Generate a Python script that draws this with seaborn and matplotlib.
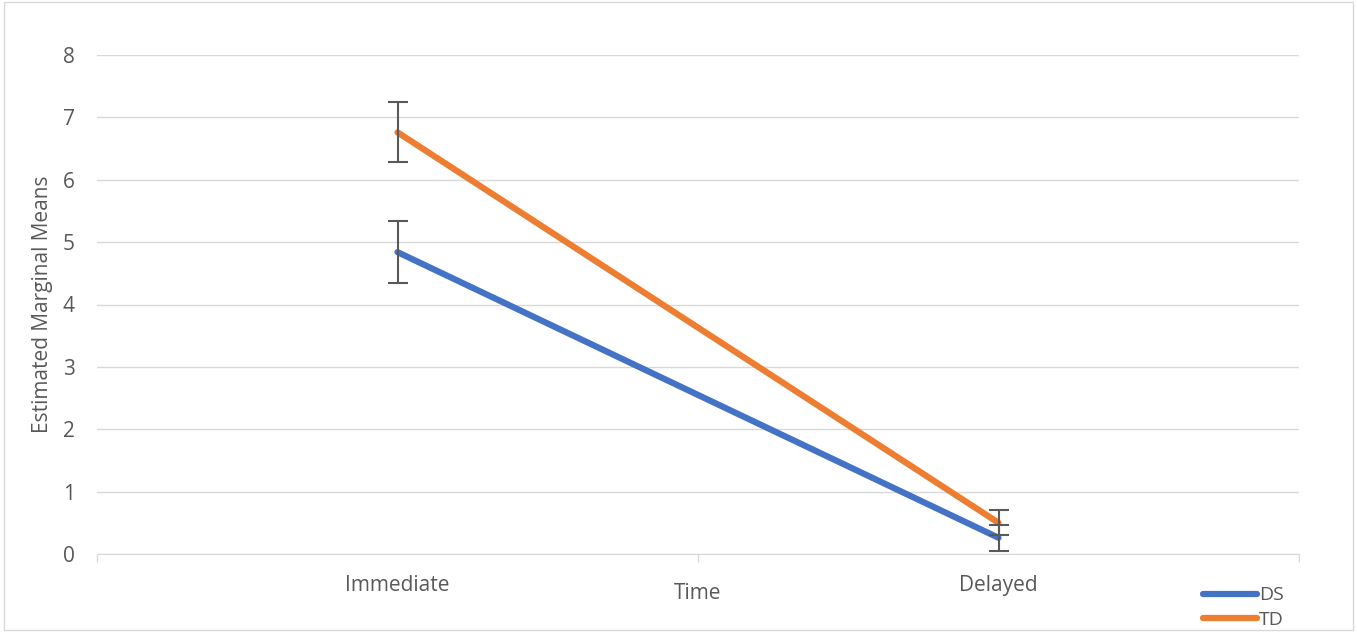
import numpy as np
import pandas as pd
import matplotlib
matplotlib.use('Agg')
import matplotlib.pyplot as plt
import seaborn as sns

# values
times = ['Immediate', 'Delayed']
groups = ['DS', 'TD']
ds_means = [4.84, 0.26]
td_means = [6.76, 0.50]
ds_err = [0.50, 0.21]
td_err = [0.48, 0.20]
colors = {'DS': '#4472C4', 'TD': '#ED7D31'}

df = pd.DataFrame({
    'Time': times * 2,
    'Group': ['DS'] * 2 + ['TD'] * 2,
    'Mean': ds_means + td_means,
    'Err': ds_err + td_err,
})

sns.set_style('white')
plt.rcParams['font.family'] = ['Open Sans', 'DejaVu Sans']
txt = '#595959'

fig = plt.figure(figsize=(13.57, 6.32), dpi=100)
ax = fig.add_axes([97 / 1357, 1 - 554 / 632, (1299 - 97) / 1357, (554 - 55) / 632])

sns.lineplot(data=df, x='Time', y='Mean', hue='Group', palette=colors,
             linewidth=4.5, ax=ax, legend=False, sort=False)
for g in groups:
    sub = df[df.Group == g]
    ax.errorbar(np.arange(len(times)), sub['Mean'], yerr=sub['Err'], fmt='none',
                ecolor='#595959', elinewidth=1.5, capsize=7, capthick=1.5, zorder=5)

ax.set_xlim(-0.5, 1.5)
ax.set_ylim(0, 8)
ax.set_yticks(range(0, 9))
ax.set_xticks(range(len(times)))
ax.set_xticklabels(times)
ax.set_xticks([-0.5, 0.5, 1.5], minor=True)
ax.grid(axis='y', color='#D9D9D9', linewidth=1)
ax.set_axisbelow(True)
for s in ['top', 'right', 'left']:
    ax.spines[s].set_visible(False)
ax.spines['bottom'].set_color('#D9D9D9')
ax.tick_params(axis='x', which='both', bottom=True)
ax.tick_params(axis='x', which='major', length=0, pad=15, labelsize=15, labelcolor=txt)
ax.tick_params(axis='x', which='minor', length=6, width=1, color='#D9D9D9', direction='out')
ax.tick_params(axis='y', length=0, pad=16, labelsize=15, labelcolor=txt)
ax.set_xlabel('Time', fontsize=15, color=txt, labelpad=-9)
ax.set_ylabel('Estimated Marginal Means', fontsize=15, color=txt, labelpad=7)

handles = [plt.Line2D([], [], color=colors[g], linewidth=4.5) for g in groups]
fig.legend(handles, groups, loc='lower right', bbox_to_anchor=(1292 / 1357, -0.008),
           frameon=False, fontsize=14, labelcolor=txt, handlelength=2.8,
           handletextpad=0.1, labelspacing=0.35, borderaxespad=0)

fig.patches.append(plt.Rectangle((0.003, 0.003), 0.994, 0.994, transform=fig.transFigure,
                                 fill=False, edgecolor='#D9D9D9', linewidth=1))
fig.savefig('out.png', dpi=100)
